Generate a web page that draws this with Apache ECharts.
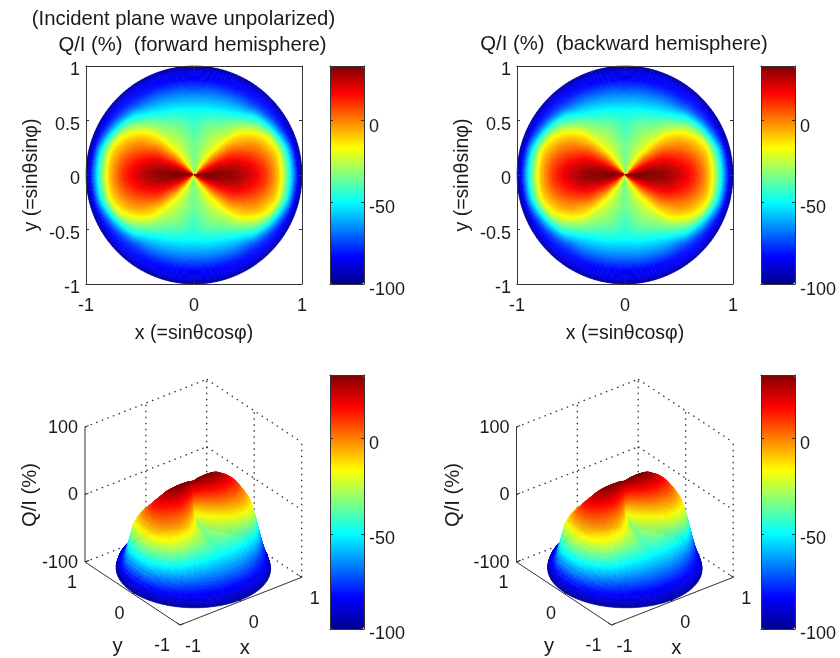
<!DOCTYPE html>
<html><head><meta charset="utf-8">
<style>html,body{margin:0;padding:0;background:#fff}#c{width:840px;height:658px;filter:blur(0.4px)}</style>
<script src="https://cdn.jsdelivr.net/npm/echarts@6/dist/echarts.min.js"></script>
</head><body><div id="c"></div>
<script>
// Radial positions r = sin(theta) of the table rows, azimuth (deg) of the table columns
const RADII = [0.02,0.06,0.1,0.15,0.2,0.25,0.3,0.35,0.4,0.45,0.5,0.55,0.6,0.65,0.7,0.74,0.78,0.81,0.84,0.87,0.9,0.93,0.96,0.98,1];
const AZIMUTHS = [3,9,15,21,27,33,39,45,51,57,63,69,75,81,87];
// Q/I (%), one list per radius, first quadrant
const QI_R02 = [31.5,29.5,26.3,22.3,17.5,11.8,5.6,-1.2,-8.6,-16.5,-20.6,-23.8,-26.6,-29.3,-31.8];
const QI_R06 = [32.5,30.4,27.2,23.1,18.2,12.4,6,-0.9,-8.4,-16.5,-20.6,-23.8,-26.6,-29.3,-31.8];
const QI_R10 = [33,30.9,27.4,23.1,18,12,5.5,-1.8,-9.5,-17.5,-21.4,-25,-28,-31,-33];
const QI_R15 = [33,30.8,27.2,22.8,17.5,11.5,4.8,-2.5,-10.5,-18.4,-22.2,-25.4,-28.3,-31.1,-33.7];
const QI_R20 = [33,31,27,22.5,17,11,4,-3.5,-12,-19,-23,-26,-29,-32,-35];
const QI_R25 = [32.5,30.5,26.5,22,16.5,10,3,-4.5,-13.5,-19.9,-23.5,-26.7,-29.6,-32.5,-35.3];
const QI_R30 = [32,29.5,25.5,20.5,15,8,1,-7.3,-16.5,-21,-24.5,-27.6,-30.4,-33.1,-35.8];
const QI_R35 = [31,28.5,24.2,19.3,14,7.3,-0.5,-9.2,-17.6,-22.1,-25.7,-28.9,-32,-35,-37.7];
const QI_R40 = [29.5,27,22.8,18,12,5.4,-2,-10.7,-19.5,-25,-27.5,-30.3,-33.7,-36.6,-39.5];
const QI_R45 = [26.5,24,19.8,14.8,9.2,2.6,-4.8,-13,-23,-27.5,-30,-32.5,-35,-38,-41.4];
const QI_R50 = [23.5,20.8,16.7,11.4,5.8,-1.5,-8,-14.5,-26,-30.5,-34,-36,-38,-40.5,-43.3];
const QI_R55 = [20.4,17.7,13.7,8.4,2.3,-3.5,-10,-18.5,-29,-34,-38,-40.5,-43,-44.5,-46];
const QI_R60 = [16.4,13.8,9.7,4.6,-0.5,-6,-14,-24,-33,-39,-43.5,-45.5,-47.6,-48.8,-50];
const QI_R65 = [12,9.5,5.5,0.5,-4,-11,-20,-31,-39.5,-46,-50,-51.9,-53.6,-54.7,-55.7];
const QI_R70 = [5.5,3.5,0,-4.5,-9.5,-16.5,-28,-39.5,-46.5,-53,-56.5,-58.2,-59.7,-60.5,-61.3];
const QI_R74 = [-1,-2,-5,-9.5,-14.5,-25,-35,-46,-54.3,-59,-61.8,-63.2,-64.6,-65.2,-65.9];
const QI_R78 = [-8,-8.5,-10,-15,-22,-34,-44,-52.8,-62.8,-65.5,-67,-68.5,-69.7,-70.3,-71];
const QI_R81 = [-16.5,-17,-18,-24,-33,-44,-53.4,-61.3,-69,-70,-71.4,-72.7,-73.7,-74.2,-75];
const QI_R84 = [-28,-28.5,-29,-36,-46,-55,-63.2,-69,-73.8,-74.6,-75.7,-76.7,-77.7,-78.3,-79];
const QI_R87 = [-39,-40,-41,-49,-58,-65,-72.3,-75.5,-78.2,-79.2,-80,-80.9,-81.7,-82.3,-83];
const QI_R90 = [-52,-53,-54,-62,-70,-75,-78,-80,-81,-82,-83,-83.5,-84,-84.5,-85];
const QI_R93 = [-67,-67.5,-68,-74,-79,-81,-82,-82.5,-83,-83.5,-84,-84.5,-85,-85.5,-86];
const QI_R96 = [-82,-83,-84,-85,-86,-86.3,-86.5,-86.8,-87,-87.3,-87.5,-87.8,-88,-88.3,-88.5];
const QI_R98 = [-90,-90,-90.5,-90.7,-91,-91,-91,-91,-91.2,-91.3,-91.5,-91.5,-91.7,-91.8,-92];
const QI_R100 = [-98,-98,-98,-98,-98,-98,-98,-98,-98,-98,-98,-98,-98,-98,-98];
// Axis ticks and labels
const XY_TICKS = [-1,0,1];
const Z_TICKS = [-100,0,100];
const BAR_TICKS = [-100,-50,0];
const QI_MIN = -100, QI_MAX = 33.5;
const JET = ['#00008f','#0000ff','#0080ff','#00ffff','#80ff80','#ffff00','#ff8000','#ff0000','#800000'];
const TITLES = ['(Incident plane wave unpolarized)','Q/I (%)  (forward hemisphere)','Q/I (%)  (backward hemisphere)'];
const X_NAME = 'x (=sin\u03B8cos\u03C6)', Y_NAME = 'y (=sin\u03B8sin\u03C6)', Z_NAME = 'Q/I (%)';

const QI = [QI_R02,QI_R06,QI_R10,QI_R15,QI_R20,QI_R25,QI_R30,QI_R35,QI_R40,QI_R45,QI_R50,QI_R55,QI_R60,QI_R65,QI_R70,QI_R74,QI_R78,QI_R81,QI_R84,QI_R87,QI_R90,QI_R93,QI_R96,QI_R98,QI_R100];

const FONT = '"Liberation Sans", Arial, sans-serif', FS = 18, NAME_FS = 19.5, TITLE_FS = 20.3, INK = '#1a1a1a', LINE = '#333';
const LUT = Array.from({ length: 256 }, (_, i) => echarts.color.lerp(i / 255, JET));
const colorOf = v => LUT[Math.max(0, Math.min(255, Math.round((v - QI_MIN) / (QI_MAX - QI_MIN) * 255)))];

// Mesh: the table's first row is repeated at r = 0, the four quadrants mirror each other.
const rNodes = [0].concat(RADII);
const nodeRow = i => QI[Math.max(0, i - 1)];
const thetaCount = AZIMUTHS.length * 4;
const thetaAt = k => {
  const n = AZIMUTHS.length, q = Math.floor(k / n) % 4, m = k % n;
  const a = AZIMUTHS[(q % 2) ? n - 1 - m : m];
  return (q * 90 + ((q % 2) ? 90 - a : a)) * Math.PI / 180;
};
const colAt = k => {
  const n = AZIMUTHS.length, q = Math.floor(k / n) % 4, m = k % n;
  return (q % 2) ? n - 1 - m : m;
};
const val = (i, k) => nodeRow(i)[colAt(k % thetaCount)];
const STEP = 6 * Math.PI / 180;
const corner = (i, k) => {
  const t = thetaAt(k % thetaCount), r = rNodes[i];
  return [r * Math.cos(t), r * Math.sin(t), val(i, k)];
};
const depth = (x, y, z) => -0.527 * x - 0.687 * y + 0.5 * z / 100;
const cellsFlat = [], cellsDepth = [];
for (let i = 0; i < RADII.length; i++) for (let k = 0; k < thetaCount; k++) {
  const c = [corner(i,k), corner(i+1,k), corner(i+1,k+1), corner(i,k+1)];
  const v = (c[0][2]+c[1][2]+c[2][2]+c[3][2]) / 4;
  const d = (depth(...c[0])+depth(...c[1])+depth(...c[2])+depth(...c[3])) / 4;
  cellsFlat.push([i, k, v]);
  cellsDepth.push([i, k, v, d]);
}
cellsDepth.sort((a, b) => a[3] - b[3]);

// Shaded mesh cell (like a surface drawn with interpolated shading): one table cell is painted
// as small facets whose colour and height blend its four table corners.
function shadedCell(i, k, toScreen, nr, na) {
  const r0 = rNodes[i], r1 = rNodes[i+1], t0 = thetaAt(k % thetaCount);
  const a = val(i,k), b = val(i+1,k), c = val(i+1,k+1), d = val(i,k+1);
  const at = (u, w) => {
    const r = r0 + (r1 - r0) * u, t = t0 + STEP * w;
    const z = (a*(1-w) + d*w)*(1-u) + (b*(1-w) + c*w)*u;
    return [r * Math.cos(t), r * Math.sin(t), z];
  };
  const children = [];
  for (let p = 0; p < nr; p++) for (let q = 0; q < na; q++) {
    const A = at(p/nr, q/na), B = at((p+1)/nr, q/na), C = at((p+1)/nr, (q+1)/na), D = at(p/nr, (q+1)/na);
    const col = colorOf((A[2]+B[2]+C[2]+D[2]) / 4);
    children.push({ type: 'polygon', shape: { points: [A,B,C,D].map(toScreen) }, style: { fill: col, stroke: col, lineWidth: 0.6 } });
  }
  return { type: 'group', children };
}

// Oblique view of the 3-D box, in screen units of the hidden axes
const VIEW = { ox: 173.35, oy: 199.65, xx: 60.85, xy: -23.85, yx: -47.5, yy: -31.5, zz: -0.675 };
const project = (x, y, z) => [VIEW.ox + x*VIEW.xx + y*VIEW.yx, VIEW.oy + x*VIEW.xy + y*VIEW.yy + (z + 100)*VIEW.zz];

const grids = [], xAxes = [], yAxes = [], series = [], visualMaps = [];
const lab = extra => Object.assign({ show: true, color: INK, fontSize: FS, fontFamily: FONT }, extra);
function axisPair(xo, yo) {
  const gi = grids.length - 1;
  const base = { gridIndex: gi, type: 'value', z: 10, splitLine: { show: false }, axisLine: { show: true, onZero: false, lineStyle: { color: LINE, width: 1 } },
    axisTick: { show: true, inside: true, length: 3, lineStyle: { color: LINE } } };
  const xi = xAxes.length, yi = yAxes.length;
  xAxes.push(Object.assign({}, base, { position: 'bottom' }, xo));
  xAxes.push(Object.assign({}, base, { position: 'top', axisLabel: { show: false }, name: '' }, { min: xo.min, max: xo.max, interval: xo.interval, axisTick: xo.axisTick || base.axisTick }));
  yAxes.push(Object.assign({}, base, { position: 'left' }, yo));
  yAxes.push(Object.assign({}, base, { position: 'right', axisLabel: { show: false }, name: '' }, { min: yo.min, max: yo.max, interval: yo.interval, axisTick: yo.axisTick || base.axisTick }));
  return { xi, yi };
}
function discPanel(left, seriesTag) {
  grids.push({ left, top: 66, width: 216, height: 218 });
  const a = axisPair({
    min: -1, max: 1, interval: 1, axisLabel: lab({ margin: 13 }),
    name: X_NAME, nameLocation: 'middle', nameGap: 40, nameTextStyle: { color: INK, fontSize: NAME_FS, fontFamily: FONT }
  }, {
    min: -1, max: 1, interval: 0.5, axisLabel: lab({ margin: 6, verticalAlign: 'top', lineHeight: 9 }),
    name: Y_NAME, nameLocation: 'middle', nameGap: 44, nameTextStyle: { color: INK, fontSize: NAME_FS, fontFamily: FONT }
  });
  series.push({
    type: 'custom', name: seriesTag, xAxisIndex: a.xi, yAxisIndex: a.yi, coordinateSystem: 'cartesian2d', silent: true, clip: false,
    encode: { x: 0, y: 1 }, data: cellsFlat, progressive: 0, animation: false,
    renderItem(params, api) {
      return shadedCell(api.value(0), api.value(1), c => api.coord([c[0], c[1]]), 3, 3);
    }
  });
}
function surfacePanel(dx) {
  grids.push({ left: 20 + dx, top: 370, width: 310, height: 285 });
  const gi = grids.length - 1, xi = xAxes.length, yi = yAxes.length;
  xAxes.push({ gridIndex: gi, type: 'value', show: false, min: 0, max: 310 });
  yAxes.push({ gridIndex: gi, type: 'value', show: false, min: 0, max: 285, inverse: true });
  return { xi, yi };
}
function surfaceSeries(a, tag) {
  series.push({
    type: 'custom', name: tag, xAxisIndex: a.xi, yAxisIndex: a.yi, silent: true, clip: false,
    encode: { x: 0, y: 1 }, data: cellsDepth, progressive: 0, animation: false, z: 3,
    renderItem(params, api) {
      return shadedCell(api.value(0), api.value(1), c => api.coord(project(c[0], c[1], c[2])), 3, 3);
    }
  });
}
// Box edges: [x1,y1,z1,x2,y2,z2,solid]
const SEGMENTS = [
  [-1,1,-100,-1,-1,-100,1],[-1,-1,-100,1,-1,-100,1],[-1,1,-100,-1,1,100,1]
];
Z_TICKS.forEach(z => { SEGMENTS.push([-1,1,z,1,1,z,0],[1,1,z,1,-1,z,0]); });
XY_TICKS.forEach(t => {
  if (t > -1) SEGMENTS.push([t,1,-100,t,1,100,0]);
  if (t < 1) SEGMENTS.push([1,t,-100,1,t,100,0]);
  if (t === 0) SEGMENTS.push([t,-1,-100,t,1,-100,0],[-1,t,-100,1,t,-100,0]);
});
XY_TICKS.forEach(t => { SEGMENTS.push([t,-1,-100,t,-0.93,-100,1],[-1,t,-100,-0.93,t,-100,1]); });
Z_TICKS.forEach(z => { SEGMENTS.push([-1,1,z,-0.94,1,z,1]); });

function boxSeries(a) {
  series.push({
    type: 'custom', xAxisIndex: a.xi, yAxisIndex: a.yi, silent: true, clip: false, encode: { x: 0, y: 1 },
    data: SEGMENTS, animation: false, z: 1,
    renderItem(params, api) {
      const p = api.coord(project(api.value(0), api.value(1), api.value(2)));
      const q = api.coord(project(api.value(3), api.value(4), api.value(5)));
      const solid = api.value(6) === 1;
      return { type: 'line', shape: { x1: p[0], y1: p[1], x2: q[0], y2: q[1] },
        style: { stroke: '#333', lineWidth: solid ? 1 : 1.3, lineDash: solid ? null : [1.5, 4.5] } };
    }
  });
}
function labelSeries(a, zNameX) {
  const items = [];
  Z_TICKS.forEach(z => { const p = project(-1, 1, z); items.push({ t: String(z), x: p[0] - 7, y: p[1] + 1, align: 'right' }); });
  XY_TICKS.forEach(t => { const p = project(t, -1, -100); items.push({ t: String(t), x: p[0] + 13, y: p[1] + 22, align: 'center' }); });
  XY_TICKS.forEach(t => { const p = project(-1, t, -100); items.push({ t: String(t), x: p[0] + (t === -1 ? -18 : -13), y: p[1] + 21, align: 'center' }); });
  const fx = project(0, -1, -100), fy = project(-1, 0, -100);
  items.push({ t: 'x', x: fx[0] + 4, y: fx[1] + 47, align: 'center', fs: TITLE_FS });
  items.push({ t: 'y', x: fy[0] - 15, y: fy[1] + 53, align: 'center', fs: TITLE_FS });
  items.push({ t: Z_NAME, x: zNameX, y: 125, align: 'center', rot: Math.PI / 2, fs: TITLE_FS });
  series.push({
    type: 'custom', xAxisIndex: a.xi, yAxisIndex: a.yi, silent: true, clip: false, encode: { x: 0, y: 1 },
    data: items.map((d, i) => [d.x, d.y, i]), animation: false, z: 6,
    renderItem(params, api) {
      const d = items[api.value(2)], p = api.coord([d.x, d.y]);
      return { type: 'text', x: p[0], y: p[1], rotation: d.rot || 0,
        style: { text: d.t, align: d.align, verticalAlign: 'middle', fill: INK, font: (d.fs || FS) + 'px ' + FONT } };
    }
  });
}
function colorBar(left, top, height, idx, lh) {
  grids.push({ left, top, width: 34, height });
  axisPair({ min: 0, max: 1, interval: 1, axisTick: { show: false }, axisLabel: { show: false } },
    { min: QI_MIN, max: QI_MAX, axisLabel: { show: false }, axisTick: { show: true, inside: true, length: 3, customValues: BAR_TICKS, lineStyle: { color: LINE } } });
  const y2 = yAxes[yAxes.length - 1];
  y2.axisLabel = lab({ margin: 5, verticalAlign: 'top', lineHeight: lh, customValues: BAR_TICKS, formatter: v => String(v) });
  visualMaps.push({
    type: 'continuous', seriesIndex: idx, dimension: 2, min: QI_MIN, max: QI_MAX, calculable: false, realtime: false,
    left, top, itemWidth: 34, itemHeight: height, padding: 0, inRange: { color: JET }, textStyle: { color: 'transparent' }
  });
}

discPanel(86, 'forward map');
discPanel(517, 'backward map');
const s3L = surfacePanel(0), s3R = surfacePanel(431.5);
surfaceSeries(s3L, 'forward surface');
surfaceSeries(s3R, 'backward surface');
boxSeries(s3L); boxSeries(s3R);
labelSeries(s3L, 10); labelSeries(s3R, 1.5);
colorBar(330, 66, 218, 0, 12);
colorBar(761, 66, 218, 1, 12);
colorBar(330, 375, 254, 2, 10);
colorBar(761, 375, 254, 3, 10);

const titleBase = { textAlign: 'center', textVerticalAlign: 'middle', textStyle: { color: INK, fontSize: TITLE_FS, fontWeight: 'normal', fontFamily: FONT } };
const option = {
  backgroundColor: '#fff', animation: false,
  title: [
    Object.assign({ text: TITLES[0], left: 178.5, top: 14 }, titleBase),
    Object.assign({ text: TITLES[1], left: 187.5, top: 40 }, titleBase),
    Object.assign({ text: TITLES[2], left: 619, top: 39 }, titleBase)
  ],
  grid: grids, xAxis: xAxes, yAxis: yAxes, visualMap: visualMaps, series
};
const chart = echarts.init(document.getElementById('c'), null, { renderer: 'canvas' });
chart.setOption(option);
</script></body></html>
